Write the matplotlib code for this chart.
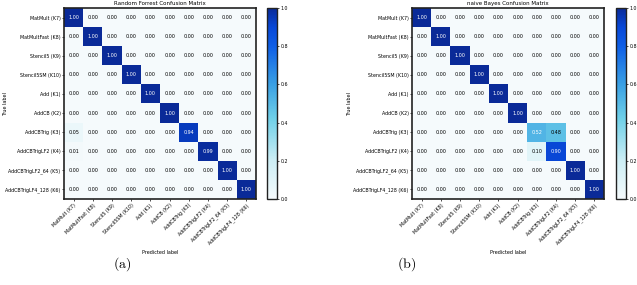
import numpy as np
import matplotlib
matplotlib.use("Agg")
import matplotlib.pyplot as plt
from matplotlib.colors import LinearSegmentedColormap

classes = ["MatMult (K7)", "MatMultFast (K8)", "Stencil5 (K9)", "Stencil5SM (K10)",
           "Add (K1)", "AddCB (K2)", "AddCBTrig (K3)", "AddCBTrigLF2 (K4)",
           "AddCBTrigLF2_64 (K5)", "AddCBTrigLF4_128 (K6)"]

# off-identity rows (row index -> {col: value})
rf_rows = {6: {0: 0.05, 6: 0.94}, 7: {0: 0.01, 7: 0.99}}
nb_rows = {6: {6: 0.52, 7: 0.48}, 7: {6: 0.10, 7: 0.90}}

titles = ["Random Forrest Confusion Matrix", "naive Bayes Confusion Matrix"]
sublabels = ["(a)", "(b)"]


def build(rows):
    n = len(classes)
    m = np.eye(n)
    for r, vals in rows.items():
        m[r, :] = 0.0
        for c, v in vals.items():
            m[r, c] = v
    return m


cmap = LinearSegmentedColormap.from_list(
    "cm", [(0.0, "#f5fafc"), (0.2, "#cdeef5"), (0.42, "#6fd0e8"),
           (0.6, "#3aa0e4"), (0.8, "#0f5fe6"), (0.9, "#0848d8"), (1.0, "#0a2a98")])

W, H = 637, 285
fig = plt.figure(figsize=(W / 100, H / 100), dpi=100)

mats = [build(rf_rows), build(nb_rows)]
ax_lefts = [64, 412]
cb_lefts = [267, 616]
sub_x = [122, 407]
ylab_x = [6, 350]

for k in range(2):
    m = mats[k]
    ax = fig.add_axes([ax_lefts[k] / W, (H - 199) / H, 192 / W, 191 / H])
    im = ax.imshow(m, interpolation="nearest", cmap=cmap, vmin=0, vmax=1, aspect="auto")
    n = len(classes)
    ax.set_xticks(range(n))
    ax.set_yticks(range(n))
    ax.set_xticklabels(classes, rotation=45, ha="right", rotation_mode="anchor", fontsize=3.4)
    ax.set_yticklabels(classes, fontsize=3.4)
    ax.tick_params(length=1.5, width=0.5, pad=1)
    for i in range(n):
        for j in range(n):
            v = m[i, j]
            ax.text(j, i, f"{v:.2f}", ha="center", va="center", fontsize=3.5,
                    color="white" if v > 0.5 else "black")
    ax.set_title(titles[k], fontsize=4.0, pad=2.5)
    ax.set_xlabel("Predicted label", fontsize=3.5, labelpad=3)
    for s in ax.spines.values():
        s.set_linewidth(1.2)
        s.set_color("#222222")
    fig.text(ylab_x[k] / W, (H - 104) / H, "True label", rotation=90, fontsize=3.5,
             ha="center", va="center")
    cax = fig.add_axes([cb_lefts[k] / W, (H - 199) / H, 10 / W, 191 / H])
    cb = fig.colorbar(im, cax=cax, ticks=[0, 0.2, 0.4, 0.6, 0.8, 1.0])
    cb.ax.tick_params(labelsize=3.4, length=1.5, width=0.5, pad=1)
    cb.outline.set_linewidth(1.0)
    cb.outline.set_edgecolor("#222222")
    fig.text(sub_x[k] / W, (H - 264) / H, r"$\mathrm{" + sublabels[k] + "}$", fontsize=10,
             ha="center", va="center", math_fontfamily="cm")

fig.savefig("out.png", dpi=100)
